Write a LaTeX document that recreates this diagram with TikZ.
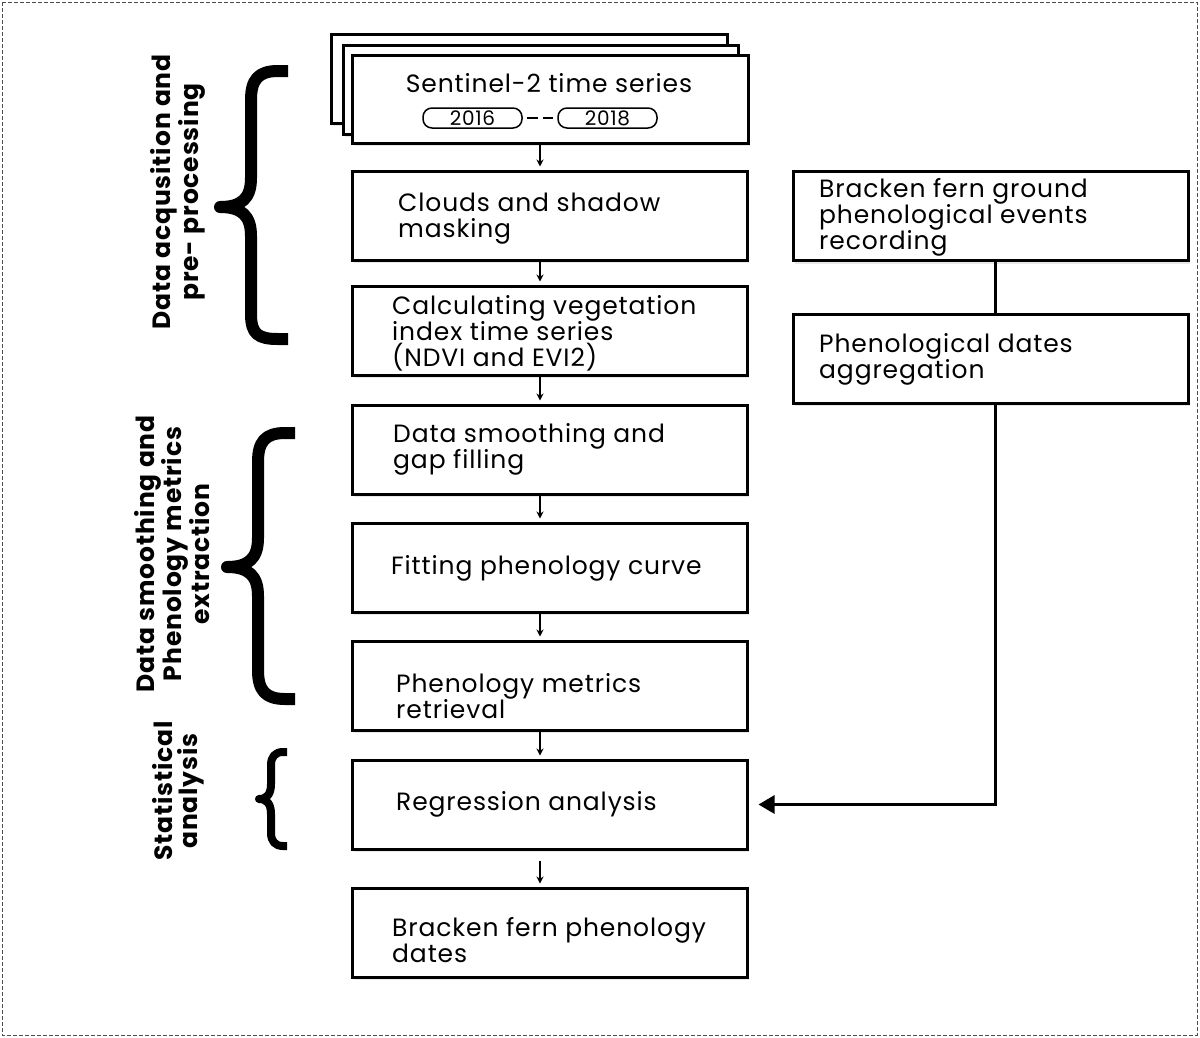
\documentclass[tikz,border=0pt]{standalone}
\usepackage{fontspec}
\setmainfont{Poppins}[LetterSpace=3.5]
\usetikzlibrary{arrows.meta,shadows,calc}
\begin{document}
\begin{tikzpicture}[x=1pt,y=-1pt,
  box/.style={draw=black,line width=3pt,fill=white,rectangle,minimum width=395pt,minimum height=89pt,
    drop shadow={fill=black!18,shadow xshift=1.5pt,shadow yshift=-3pt}},
  bt/.style={anchor=west,align=left,inner sep=0pt,yshift=-3pt,font=\fontsize{25}{26}\selectfont},
  pill/.style={draw=black,line width=1.5pt,rounded corners=9pt,minimum width=99pt,minimum height=20pt,inner sep=0pt,font=\fontsize{20}{20}\selectfont},
  smallarr/.style={-{Stealth[length=7pt,width=7pt]},line width=1.4pt,shorten >=3pt},
  bigarr/.style={-{Triangle[length=16pt,width=18pt]},line width=3pt,shorten >=10pt},
  brace/.style={line width=12pt,line join=round},
  side/.style={rotate=90,align=center,font=\bfseries\fontsize{25}{25}\selectfont}
]
\useasboundingbox (0,0) rectangle (1200,1037);
\draw[dashed,line width=0.8pt,black!70,dash pattern=on 4pt off 2pt] (2,2) rectangle (1197,1035);

% Sentinel stack
\node[box,minimum width=396pt,minimum height=89pt] (s3) at (529,78.5) {};
\node[box,minimum width=395pt,minimum height=89pt] (s2) at (540.5,89.5) {};
\node[box,minimum width=396pt,minimum height=88pt] (s1) at (550,99) {};
\node[font=\fontsize{25}{26}\selectfont,inner sep=0pt] (st) at (549,83) {Sentinel-2 time series};
\node[pill] (p16) at (472.5,118) {2016};
\node[pill] (p18) at (607.5,118) {2018};
\draw[line width=1.4pt,dash pattern=on 11pt off 5pt,shorten <=4pt,shorten >=4pt] (p16.east) -- (p18.west);

% main column
\node[box] (cl) at (549.5,215.5) {};
\node[bt] (tcl) at (398,216) {Clouds and shadow\\masking};
\node[box] (ca) at (549.5,330.5) {};
\node[bt] (tca) at (392,330) {Calculating vegetation\\index time series\\(NDVI and EVI2)};
\node[box] (ds) at (549.5,449.5) {};
\node[bt] (tds) at (393,446) {Data smoothing and\\gap filling};
\node[box] (fp) at (549.5,567.5) {};
\node[bt] (tfp) at (391,565) {Fitting phenology curve};
\node[box] (pm) at (549.5,685.5) {};
\node[bt] (tpm) at (396,693) {Phenology metrics\\retrieval};
\node[box] (ra) at (549.5,804.5) {};
\node[bt] (tra) at (396,801) {Regression analysis};
\node[box] (bd) at (549.5,932.5) {};
\node[bt] (tbd) at (392,937) {Bracken fern phenology\\dates};

% right column
\node[box] (gr) at (990.5,216) {};
\node[bt] (tgr) at (819,214) {Bracken fern ground\\phenological events\\recording};
\node[box] (ag) at (990.5,358.5) {};
\node[bt] (tag) at (819,356) {Phenological dates\\aggregation};

% arrows
\coordinate (ax) at (540,0);
\draw[smallarr] (s1.south -| ax) -- (cl.north -| ax);
\draw[smallarr] (cl.south -| ax) -- (ca.north -| ax);
\draw[smallarr] (ca.south -| ax) -- (ds.north -| ax);
\draw[smallarr] (ds.south -| ax) -- (fp.north -| ax);
\draw[smallarr] (fp.south -| ax) -- (pm.north -| ax);
\draw[smallarr] (pm.south -| ax) -- (ra.north -| ax);
\draw[smallarr,shorten <=10pt] (ra.south -| ax) -- (bd.north -| ax);

\coordinate (rx) at (995,0);
\draw[line width=3pt] (gr.south -| rx) -- (ag.north -| rx);
\draw[bigarr] (ag.south -| rx) |- (ra.east);

% braces
\draw[brace] (288,71) -- (278,71) .. controls (258,71) and (251,80) .. (251,100) -- (251,178)
  .. controls (251,198) and (242,207) .. (220,207) .. controls (242,207) and (251,216) .. (251,236)
  -- (251,314) .. controls (251,334) and (258,339) .. (278,339) -- (288,339);
\draw[brace] (295,433) -- (285,433) .. controls (265,433) and (258,442) .. (258,462) -- (258,538)
  .. controls (258,558) and (249,567) .. (227,567) .. controls (249,567) and (258,576) .. (258,596)
  -- (258,670) .. controls (258,690) and (265,699) .. (285,699) -- (295,699);
\draw[brace,line width=8pt] (287,752) -- (283,752) .. controls (275,752) and (271,757) .. (271,765) -- (271,784)
  .. controls (271,794) and (267,799) .. (259,799) .. controls (267,799) and (271,804) .. (271,814)
  -- (271,833) .. controls (271,841) and (275,846) .. (283,846) -- (287,846);

% side labels
\node[side] (l1) at (178,192) {Data acqusition and\\pre- processing};
\node[side] (l2) at (172,554) {Data smoothing and\\Phenology metrics\\extraction};
\node[side] (l3) at (178,791) {Statistical\\analysis};
\end{tikzpicture}
\end{document}
